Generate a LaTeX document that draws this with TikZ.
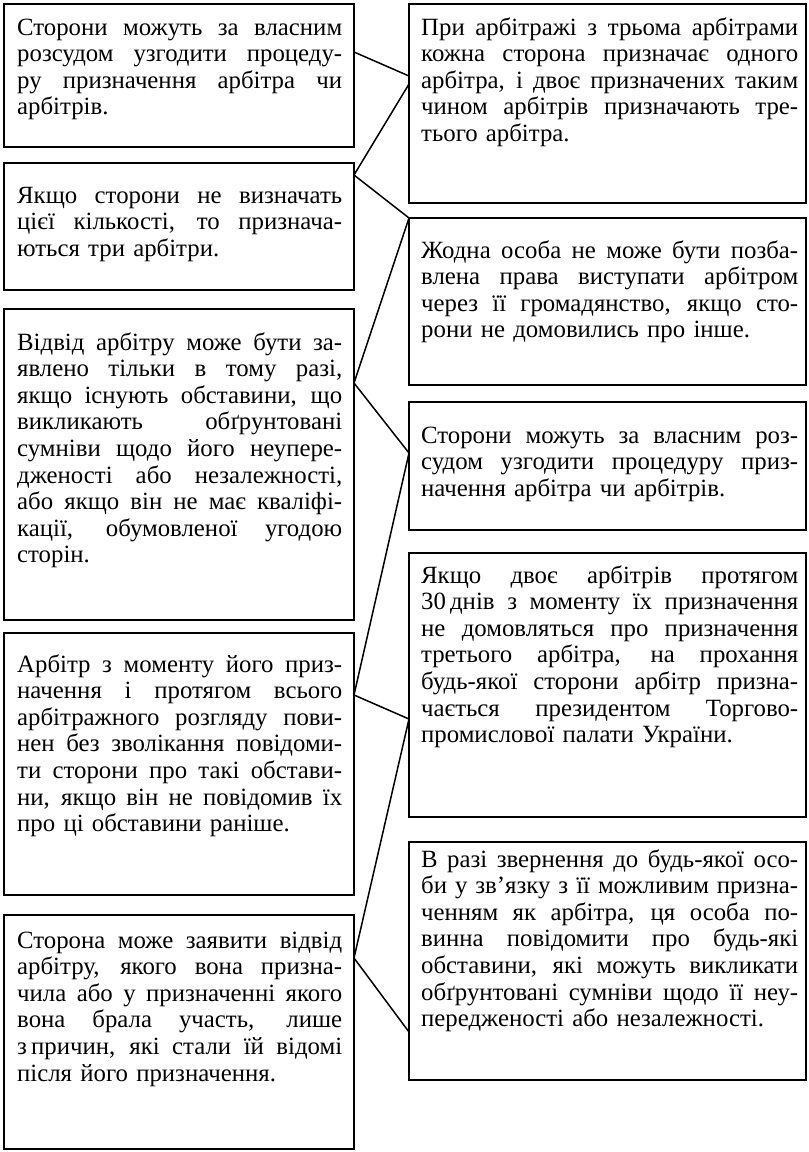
\documentclass[tikz,border=0pt]{standalone}
\usepackage{fontspec}
\setmainfont{Liberation Serif}
\usetikzlibrary{calc}
\newlength{\jw}
\newcommand{\JL}[1]{\hbox to\jw{\spaceskip=0.25em plus 1fil\relax#1}}
\newcommand{\LL}[1]{\hbox{#1}}
\tikzset{
  box/.style={draw=black, line width=1.8pt, inner sep=0pt, outer sep=0pt, anchor=north west},
  txtL/.style={inner sep=0pt, anchor=base west, text width=325pt, font=\fontsize{24.8}{26.6}\selectfont, execute at begin node={\setlength{\jw}{325pt}}},
  txtR/.style={inner sep=0pt, anchor=base west, text width=377pt, font=\fontsize{24.8}{26.6}\selectfont, execute at begin node={\setlength{\jw}{377pt}}},
  conn/.style={draw=black, line width=1.5pt}
}
\begin{document}
\begin{tikzpicture}[x=1pt,y=-1pt]
\useasboundingbox (0,0) rectangle (809,1152);
% left boxes
\node[box, minimum width=350pt, minimum height=143pt] (L1) at (4,4) {};
\node[box, minimum width=350pt, minimum height=127pt] (L2) at (4,163) {};
\node[box, minimum width=350pt, minimum height=311pt] (L3) at (4,309) {};
\node[box, minimum width=350pt, minimum height=262pt] (L4) at (4,633) {};
\node[box, minimum width=350pt, minimum height=234pt] (L5) at (4,915) {};
% right boxes
\node[box, minimum width=397pt, minimum height=199pt] (R1) at (409,4) {};
\node[box, minimum width=397pt, minimum height=167pt] (R2) at (409,218) {};
\node[box, minimum width=397pt, minimum height=128pt] (R3) at (409,402) {};
\node[box, minimum width=397pt, minimum height=264pt] (R4) at (409,553) {};
\node[box, minimum width=397pt, minimum height=238pt] (R5) at (409,842) {};
% texts left
\node[txtL] (L1t) at (17,35) {%
\JL{Сторони можуть за власним}
\JL{розсудом узгодити процеду-}
\JL{ру призначення арбітра чи}
\LL{арбітрів.}};
\node[txtL] (L2t) at (17,203) {%
\JL{Якщо сторони не визначать}
\JL{цієї кількості, то признача-}
\LL{ються три арбітри.}};
\node[txtL] (L3t) at (17,350) {%
\JL{Відвід арбітру може бути за-}
\JL{явлено тільки в тому разі,}
\JL{якщо існують обставини, що}
\JL{викликають обґрунтовані}
\JL{сумніви щодо його неупере-}
\JL{дженості або незалежності,}
\JL{або якщо він не має кваліфі-}
\JL{кації, обумовленої угодою}
\LL{сторін.}};
\node[txtL] (L4t) at (17,672) {%
\JL{Арбітр з моменту його приз-}
\JL{начення і протягом всього}
\JL{арбітражного розгляду пови-}
\JL{нен без зволікання повідоми-}
\JL{ти сторони про такі обстави-}
\JL{ни, якщо він не повідомив їх}
\LL{про ці обставини раніше.}};
\node[txtL] (L5t) at (17,948) {%
\JL{Сторона може заявити відвід}
\JL{арбітру, якого вона призна-}
\JL{чила або у призначенні якого}
\JL{вона брала участь, лише}
\JL{з\,причин, які стали їй відомі}
\LL{після його призначення.}};
% texts right
\node[txtR] (R1t) at (421,35) {%
\JL{При арбітражі з трьома арбітрами}
\JL{кожна сторона призначає одного}
\JL{арбітра, і двоє призначених таким}
\JL{чином арбітрів призначають тре-}
\LL{тього арбітра.}};
\node[txtR] (R2t) at (421,258) {%
\JL{Жодна особа не може бути позба-}
\JL{влена права виступати арбітром}
\JL{через її громадянство, якщо сто-}
\LL{рони не домовились про інше.}};
\node[txtR] (R3t) at (421,443) {%
\JL{Сторони можуть за власним роз-}
\JL{судом узгодити процедуру приз-}
\LL{начення арбітра чи арбітрів.}};
\node[txtR] (R4t) at (421,583) {%
\JL{Якщо двоє арбітрів протягом}
\JL{30\,днів з моменту їх призначення}
\JL{не домовляться про призначення}
\JL{третього арбітра, на прохання}
\JL{будь-якої сторони арбітр призна-}
\JL{чається президентом Торгово-}
\LL{промислової палати України.}};
\node[txtR] (R5t) at (421,867) {%
\JL{В разі звернення до будь-якої осо-}
\JL{би у зв’язку з її можливим призна-}
\JL{ченням як арбітра, ця особа по-}
\JL{винна повідомити про будь-які}
\JL{обставини, які можуть викликати}
\JL{обґрунтовані сумніви щодо її неу-}
\LL{передженості або незалежності.}};
% connectors
\coordinate (c1) at (L1.east |- 0,52);
\coordinate (c2) at (R1.west |- 0,76);
\coordinate (c3) at (R1.west |- 0,84);
\coordinate (c4) at (L2.east |- 0,175);
\coordinate (c5) at (L3.east |- 0,383);
\coordinate (c6) at (R3.west |- 0,453);
\coordinate (c7) at (L4.east |- 0,695);
\coordinate (c8) at (R4.west |- 0,719);
\coordinate (c9) at (L5.east |- 0,958);
\coordinate (c10) at (R5.west |- 0,1032);
\draw[conn] (c1) -- (c2);
\draw[conn] (c3) -- (c4);
\draw[conn] (c4) -- (R2.north west);
\draw[conn] (R2.north west) -- (c5);
\draw[conn] (c5) -- (c6);
\draw[conn] (c6) -- (c7);
\draw[conn] (c7) -- (c8);
\draw[conn] (c8) -- (c9);
\draw[conn] (c9) -- (c10);
\end{tikzpicture}
\end{document}
